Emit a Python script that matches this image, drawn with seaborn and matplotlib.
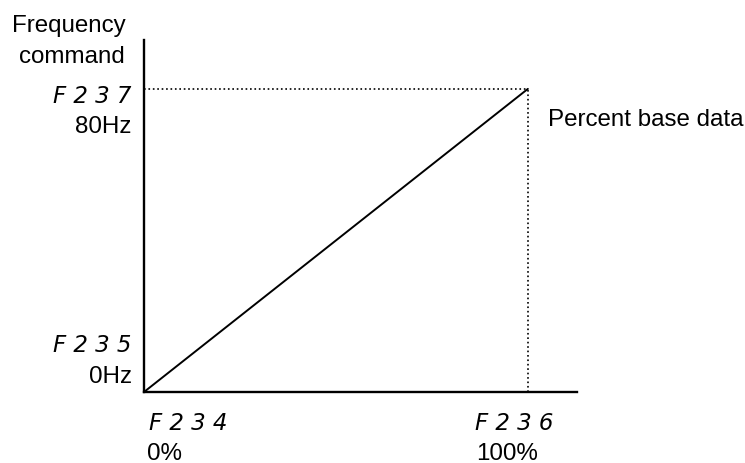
import matplotlib
matplotlib.use("Agg")
import matplotlib.pyplot as plt
import seaborn as sns

# data
pct = [0, 100]          # percent base data
freq = [0, 80]          # frequency command (Hz)
x_codes = ["F 2 3 4", "F 2 3 6"]
x_labels = ["0%", "100%"]
y_codes = ["F 2 3 5", "F 2 3 7"]
y_labels = ["0Hz", "80Hz"]

sns.set_style("white")
plt.rcParams['font.family'] = ['Liberation Sans', 'DejaVu Sans']

fig = plt.figure(figsize=(7.45, 4.64), dpi=100)
ax = fig.add_axes([144/745, 1-393/464, (577-144)/745, (393-41)/464])

sns.lineplot(x=pct, y=freq, ax=ax, color="black", linewidth=1.4)
ax.hlines(freq[-1], pct[0], pct[-1], colors="black", linestyles=":", linewidth=1.2)
ax.vlines(pct[-1], freq[0], freq[-1], colors="black", linestyles=":", linewidth=1.2)

ax.set_xlim(0, 112.8)
ax.set_ylim(0, 92.9)
ax.set_xticks([])
ax.set_yticks([])
for s in ["top", "right"]:
    ax.spines[s].set_visible(False)
for s in ["left", "bottom"]:
    ax.spines[s].set_color("black")
    ax.spines[s].set_linewidth(1.7)

fs = 17.4
seg = dict(family="DejaVu Sans", style="oblique", fontsize=16.5, color="black")
txt = dict(fontsize=fs, color="black")

# y side labels
ax.annotate(y_codes[1], xy=(pct[0], freq[1]), xytext=(-13, -13), textcoords="offset pixels",
            ha="right", va="baseline", **seg)
ax.annotate(y_labels[1], xy=(pct[0], freq[1]), xytext=(-13, -43), textcoords="offset pixels",
            ha="right", va="baseline", **txt)
ax.annotate(y_codes[0], xy=(pct[0], freq[0]), xytext=(-13, 41), textcoords="offset pixels",
            ha="right", va="baseline", **seg)
ax.annotate(y_labels[0], xy=(pct[0], freq[0]), xytext=(-12, 10), textcoords="offset pixels",
            ha="right", va="baseline", **txt)

# x side labels
ax.annotate(x_codes[0], xy=(pct[0], freq[0]), xytext=(5, -37), textcoords="offset pixels",
            ha="left", va="baseline", **seg)
ax.annotate(x_labels[0], xy=(pct[0], freq[0]), xytext=(3, -67), textcoords="offset pixels",
            ha="left", va="baseline", **txt)
ax.annotate(x_codes[1], xy=(pct[1], freq[0]), xytext=(-53, -37), textcoords="offset pixels",
            ha="left", va="baseline", **seg)
ax.annotate(x_labels[1], xy=(pct[1], freq[0]), xytext=(-52, -67), textcoords="offset pixels",
            ha="left", va="baseline", **txt)

ax.annotate("Percent base data", xy=(pct[1], freq[1]), xytext=(20, -36), textcoords="offset pixels",
            ha="left", va="baseline", **txt)

# axis title
ax.annotate("Frequency", xy=(0, 1), xycoords="axes fraction", xytext=(-75.5, 9),
            textcoords="offset pixels", ha="center", va="baseline", **txt)
ax.annotate("command", xy=(0, 1), xycoords="axes fraction", xytext=(-72.5, -22),
            textcoords="offset pixels", ha="center", va="baseline", **txt)

fig.savefig("out.png", dpi=100)
